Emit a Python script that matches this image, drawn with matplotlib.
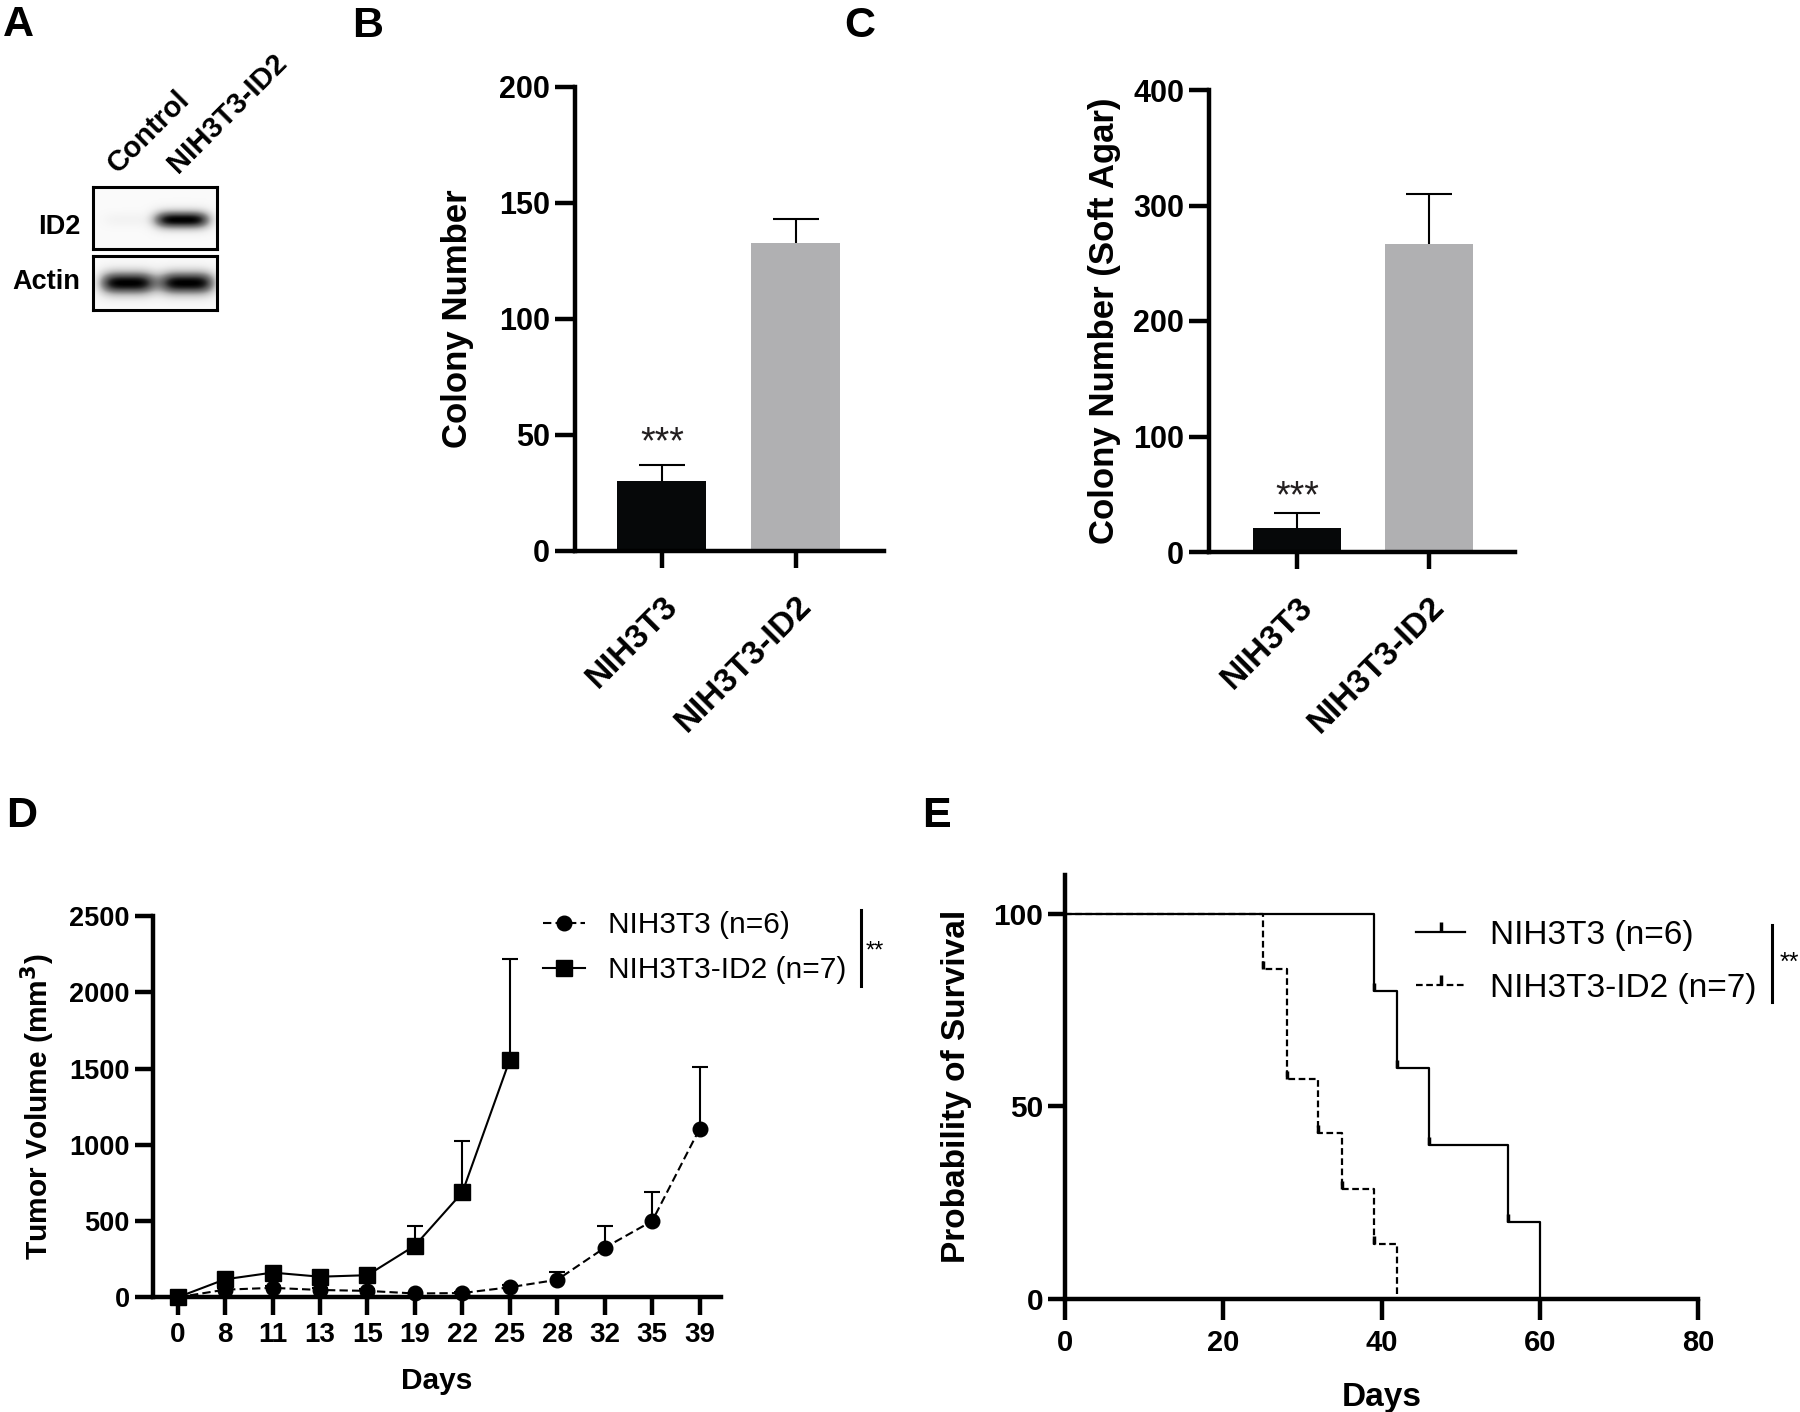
import matplotlib
matplotlib.use("Agg")
import matplotlib.pyplot as plt
import matplotlib.transforms as mtransforms
import numpy as np
from matplotlib.lines import Line2D

W, H = 1800, 1412

# panel A lanes / rows
blot_lanes = ["Control", "NIH3T3-ID2"]
blot_rows = ["ID2", "Actin"]

# panel B: plate colony formation
groups = ["NIH3T3", "NIH3T3-ID2"]
colony_mean = [30, 132.5]
colony_sem = [7, 10.5]

# panel C: soft agar
agar_mean = [21, 267]
agar_sem = [13, 43]

# panel D: tumor growth
days = [0, 8, 11, 13, 15, 19, 22, 25, 28, 32, 35, 39]
nih_vol = [0, 50, 62, 48, 42, 25, 28, 66, 115, 325, 500, 1105]
nih_vol_sem = [0, 12, 15, 10, 10, 6, 6, 15, 50, 142, 192, 408]
id2_vol = [0, 118, 162, 135, 145, 339, 688, 1558]
id2_vol_sem = [0, 15, 20, 15, 15, 128, 337, 662]

# panel E: survival
nih_t = [0, 39, 42, 46, 56, 60]
nih_s = [100, 80, 60, 40, 20, 0]
id2_t = [0, 25, 28, 32, 35, 39, 42]
id2_s = [100, 85.7, 57.1, 42.9, 28.6, 14.3, 0]

NARROW = ["Liberation Sans Narrow", "Liberation Sans"]

plt.rcParams["font.family"] = ["Liberation Sans", "DejaVu Sans"]


def axes_px(fig, x0, y0, x1, y1):
    return fig.add_axes([x0 / W, 1 - y1 / H, (x1 - x0) / W, (y1 - y0) / H])


def style(ax, lw, ylen, xlen, ypad, xpad):
    for s in ["top", "right"]:
        ax.spines[s].set_visible(False)
    for s in ["left", "bottom"]:
        ax.spines[s].set_linewidth(lw)
    ax.tick_params(axis="y", width=lw, length=ylen, pad=ypad)
    ax.tick_params(axis="x", width=lw, length=xlen, pad=xpad)


def up_errorbar(ax, x, y, err, capsize, zorder):
    # only the upper half of the error bar, as in the original
    n = len(y)
    _, caps, _ = ax.errorbar(x, y, yerr=[np.zeros(n), err], fmt="none",
                             ecolor="black", elinewidth=1.5, capsize=capsize,
                             capthick=1.5, clip_on=False, zorder=zorder)
    caps[0].set_visible(False)


def bar_panel(fig, ax, means, sems, ymax, ystep, ylabel, xlim, label_x, star_off):
    x = np.arange(len(groups))
    ax.bar(x, means, width=0.664, color=["#060809", "#b0b0b2"], zorder=2)
    up_errorbar(ax, x, means, sems, 16.6, 3)
    ax.set_xlim(*xlim)
    ax.set_ylim(0, ymax)
    ax.set_yticks(np.arange(0, ymax + 1, ystep),
                  [str(v) for v in np.arange(0, ymax + 1, ystep)],
                  fontsize=22, fontweight="bold")
    ax.set_xticks(x, groups, fontsize=24, fontweight="bold", rotation=45,
                  ha="right", va="top", rotation_mode="anchor")
    shift = mtransforms.ScaledTranslation(-0.1, 0, fig.dpi_scale_trans)
    for lbl in ax.get_xticklabels():
        lbl.set_transform(lbl.get_transform() + shift)
    style(ax, 3.2, 14.4, 12.2, 3.6, 16)
    ax.set_ylabel(ylabel, fontsize=25, fontweight="bold", va="center")
    ax.yaxis.set_label_coords(label_x, 0.5)
    ax.text(0, means[0] + sems[0] + star_off, "***", ha="center",
            va="center", fontsize=27, color="#231f20")


def blot_image(kind):
    yy, xx = np.mgrid[0:1:60j, 0:1:120j]
    img = np.full(yy.shape, 0.04)
    if kind == "ID2":
        img += 0.97 * np.exp(-((xx - 0.72) / 0.23) ** 4 - ((yy - 0.53) / 0.15) ** 2)
        img += 0.06 * np.exp(-((xx - 0.28) / 0.2) ** 4 - ((yy - 0.53) / 0.12) ** 2)
    else:
        img += 0.97 * np.exp(-((xx - 0.28) / 0.23) ** 4 - ((yy - 0.5) / 0.22) ** 2)
        img += 0.97 * np.exp(-((xx - 0.76) / 0.23) ** 4 - ((yy - 0.5) / 0.22) ** 2)
    return np.clip(img, 0, 1)


def main():
    fig = plt.figure(figsize=(W / 100, H / 100), dpi=100)

    # panel letters
    for letter, (px, py) in zip("ABCDE", [(3, 5), (352, 6), (844, 6), (6, 796), (922, 796)]):
        fig.text(px / W, 1 - py / H, letter, fontsize=31, fontweight="bold",
                 ha="left", va="top")

    # ---- A: western blot
    for row, (y0, y1, ly) in zip(blot_rows, [(187, 249, 227), (256, 310, 282)]):
        ax = axes_px(fig, 93, y0, 217, y1)
        ax.imshow(blot_image(row), cmap="Greys", vmin=0, vmax=1,
                  aspect="auto", interpolation="bilinear")
        ax.set_xticks([])
        ax.set_yticks([])
        for s in ax.spines.values():
            s.set_linewidth(2.2)
        fig.text(80 / W, 1 - ly / H, row, ha="right", va="center",
                 fontsize=19.5, fontweight="bold")
    for lane, lx in zip(blot_lanes, [122, 182]):
        fig.text(lx / W, 1 - 178 / H, lane, rotation=45, rotation_mode="anchor",
                 ha="left", va="bottom", fontsize=21, fontweight="bold")

    # ---- B
    ax = axes_px(fig, 575, 86.7, 884, 551)
    bar_panel(fig, ax, colony_mean, colony_sem, 200, 50, "Colony Number",
              (-0.649, 1.657), -0.379, 9.5)

    # ---- C
    ax = axes_px(fig, 1209, 90, 1515, 552)
    bar_panel(fig, ax, agar_mean, agar_sem, 400, 100, "Colony Number (Soft Agar)",
              (-0.667, 1.652), -0.343, 13)

    # ---- D: tumor volume
    ax = axes_px(fig, 153, 916, 721, 1297.3)
    xd = np.arange(len(days))
    xi = np.arange(len(id2_vol))
    up_errorbar(ax, xd, nih_vol, nih_vol_sem, 6, 3)
    up_errorbar(ax, xi, id2_vol, id2_vol_sem, 6, 3)
    ax.plot(xd, nih_vol, color="black", lw=1.5, dashes=(4, 2), marker="o",
            ms=10.5, label="NIH3T3 (n=6)", clip_on=False, zorder=4)
    ax.plot(xi, id2_vol, color="black", lw=1.5, marker="s", ms=11.5,
            label="NIH3T3-ID2 (n=7)", clip_on=False, zorder=4)
    ax.set_xlim(-0.52, 11.45)
    ax.set_ylim(0, 2500)
    ax.set_yticks(np.arange(0, 2501, 500),
                  [str(v) for v in np.arange(0, 2501, 500)],
                  fontsize=19.5, fontweight="bold")
    ax.set_xticks(xd, [str(d) for d in days], fontsize=20, fontweight="bold",
                  fontfamily=NARROW)
    style(ax, 3.2, 13, 13, 3.6, 4.5)
    ax.set_ylabel("Tumor Volume (mm$^\\mathbf{3}$)", fontsize=21.5,
                  fontweight="bold", va="center")
    ax.yaxis.set_label_coords(-0.2025, 0.5)
    ax.set_xlabel("Days", fontsize=21.5, fontweight="bold", va="center")
    ax.xaxis.set_label_coords(0.5, -0.2195)
    ax.legend(loc="center left", bbox_to_anchor=(543 / W, 1 - 947.5 / H),
              bbox_transform=fig.transFigure, frameon=False, borderpad=0,
              borderaxespad=0, handlelength=1.4, handletextpad=0.77,
              labelspacing=0.57, fontsize=21.5, numpoints=1)
    fig.add_artist(Line2D([861 / W, 861 / W], [1 - 910 / H, 1 - 986 / H],
                          color="black", lw=2.2))
    fig.text(866 / W, 1 - 952 / H, "**", fontsize=17, ha="left", va="center")

    # ---- E: survival
    ax = axes_px(fig, 1065, 875, 1698, 1298.7)
    ax.step(nih_t, nih_s, where="post", color="black", lw=1.6, clip_on=False,
            zorder=3)
    ax.step(id2_t, id2_s, where="post", color="black", lw=1.6, dashes=(3, 1.6),
            clip_on=False, zorder=3)
    ax.plot(nih_t[1:-1], nih_s[1:-1], ls="none", marker=2, ms=6, mew=2.5,
            color="black", zorder=3)
    ax.plot(id2_t[1:-1], id2_s[1:-1], ls="none", marker=2, ms=6, mew=2.5,
            color="black", zorder=3)
    ax.set_xlim(0, 80)
    ax.set_ylim(0, 110)
    ax.set_yticks([0, 50, 100], ["0", "50", "100"], fontsize=21.5,
                  fontweight="bold")
    ax.set_xticks([0, 20, 40, 60, 80], ["0", "20", "40", "60", "80"],
                  fontsize=21, fontweight="bold")
    style(ax, 3.2, 12, 15, 3.6, 7)
    ax.set_ylabel("Probability of Survival", fontsize=24, fontweight="bold",
                  va="center")
    ax.yaxis.set_label_coords(-0.172, 0.5)
    ax.set_xlabel("Days", fontsize=24, fontweight="bold", va="center")
    ax.xaxis.set_label_coords(0.5, -0.233)
    handles = [
        Line2D([], [], color="black", lw=1.6, marker=2, ms=7, mew=2.5),
        Line2D([], [], color="black", lw=1.6, dashes=(3, 1.6), marker=2, ms=7,
               mew=2.5),
    ]
    ax.legend(handles, ["NIH3T3 (n=6)", "NIH3T3-ID2 (n=7)"], loc="center left",
              bbox_to_anchor=(1416 / W, 1 - 961.7 / H),
              bbox_transform=fig.transFigure, frameon=False, borderpad=0,
              borderaxespad=0, handlelength=1.47, handletextpad=0.75,
              labelspacing=0.65, fontsize=24, numpoints=1)
    fig.add_artist(Line2D([1772 / W, 1772 / W], [1 - 925 / H, 1 - 1002 / H],
                          color="black", lw=2.2))
    fig.text(1780 / W, 1 - 963 / H, "**", fontsize=18, ha="left", va="center")

    fig.savefig("out.png", dpi=100)


if __name__ == "__main__":
    main()
